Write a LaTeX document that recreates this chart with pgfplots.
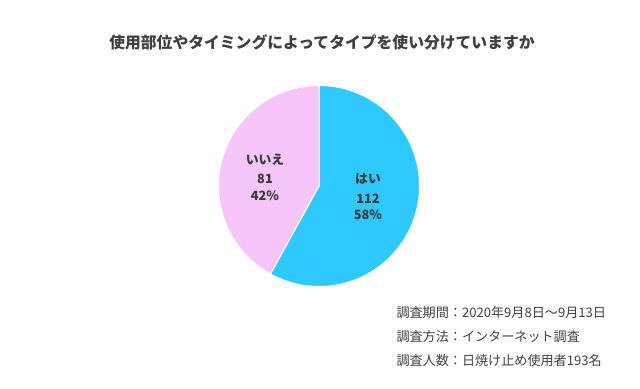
\documentclass[border=0pt]{standalone}
\usepackage{pgfplots}
\pgfplotsset{compat=1.18}
\usepackage{fontspec}
\setmainfont{Noto Sans CJK JP}
\definecolor{hai}{RGB}{46,202,255}
\definecolor{iie}{RGB}{246,198,250}
\definecolor{txt}{RGB}{64,64,64}
\def\vHai{112}
\def\vIie{81}
\begin{document}
\begin{tikzpicture}
\pgfmathsetmacro{\tot}{\vHai+\vIie}
\pgfmathsetmacro{\aHai}{\vHai/\tot*360}
\begin{axis}[
  scale only axis, width=640bp, height=388bp,
  xmin=0, xmax=640, ymin=0, ymax=388,
  hide axis, clip=false,
]
\path (axis cs:0,0) rectangle (axis cs:640,388);
% pie slices computed from the data values
\fill[hai, draw=white, line width=1pt] (axis cs:319,202) -- ++(90:100.5bp)
  arc[start angle=90, end angle={90-\aHai}, radius=100.5bp] -- cycle;
\fill[iie, draw=white, line width=1pt] (axis cs:319,202) -- ++({90-\aHai}:100.5bp)
  arc[start angle={90-\aHai}, end angle=-270, radius=100.5bp] -- cycle;
% title
\node[txt, font=\fontsize{15.8bp}{18bp}\selectfont\bfseries] at (axis cs:322,346) {使用部位やタイミングによってタイプを使い分けていますか};
% slice labels
\node[txt!90!black, font=\fontsize{12.8bp}{16.5bp}\selectfont\bfseries, align=center] at (axis cs:265,211) {いいえ\\[3bp]81\\42\%};
\node[txt!90!black, font=\fontsize{12.8bp}{16.5bp}\selectfont\bfseries, align=center] at (axis cs:368,191) {はい\\[3bp]112\\58\%};
% notes
\node[txt, anchor=west, font=\fontsize{13.1bp}{15bp}\selectfont] at (axis cs:393,75) {調査期間：2020年9月8日～9月13日};
\node[txt, anchor=west, font=\fontsize{13.1bp}{15bp}\selectfont] at (axis cs:393,51) {調査方法：インターネット調査};
\node[txt, anchor=west, font=\fontsize{13.1bp}{15bp}\selectfont] at (axis cs:393,27) {調査人数：日焼け止め使用者193名};
\end{axis}
\end{tikzpicture}
\end{document}
